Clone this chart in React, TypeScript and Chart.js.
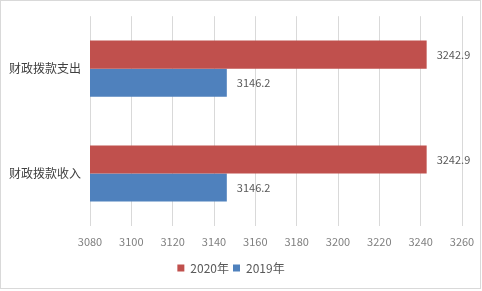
import React, { useEffect, useRef } from "react";
import { Chart, registerables } from "chart.js";

Chart.register(...registerables);

const categories = ["财政拨款支出", "财政拨款收入"];
const seriesNames = ["2020年", "2019年"];
const values2020 = [3242.9, 3242.9];
const values2019 = [3146.2, 3146.2];
const xMin = 3080;
const xMax = 3260;
const xStep = 20;

const RED = "#C0504D";
const BLUE = "#4F81BD";
const FONT = '"Noto Sans CJK SC", "Liberation Sans", sans-serif';

const valueLabels = {
  id: "valueLabels",
  afterDatasetsDraw(chart: any) {
    const ctx = chart.ctx;
    ctx.save();
    ctx.font = `11px ${FONT}`;
    ctx.fillStyle = "#595959";
    ctx.textAlign = "left";
    ctx.textBaseline = "middle";
    chart.data.datasets.forEach((ds: any, i: number) => {
      const meta = chart.getDatasetMeta(i);
      meta.data.forEach((el: any, j: number) => {
        ctx.fillText(String(ds.data[j]), el.x + 10, el.y);
      });
    });
    ctx.restore();
  },
};

export default function App() {
  const ref = useRef<HTMLCanvasElement>(null);
  useEffect(() => {
    if (!ref.current) return;
    const chart = new Chart(ref.current, {
      type: "bar",
      data: {
        labels: categories,
        datasets: [
          { label: seriesNames[0], data: values2020, backgroundColor: RED, categoryPercentage: 0.535, barPercentage: 1 },
          { label: seriesNames[1], data: values2019, backgroundColor: BLUE, categoryPercentage: 0.535, barPercentage: 1 },
        ],
      },
      options: {
        indexAxis: "y",
        animation: false,
        responsive: false,
        maintainAspectRatio: false,
        layout: { padding: { top: 16, right: 20, left: 0, bottom: 7 } },
        scales: {
          x: {
            min: xMin,
            max: xMax,
            ticks: {
              stepSize: xStep,
              color: "#7f7f7f",
              font: { size: 11, family: FONT },
              padding: 1,
              maxRotation: 0,
              callback: (v: any) => String(v),
            },
            grid: { color: "#d9d9d9", drawTicks: true, tickLength: 8, tickColor: "rgba(0,0,0,0)" },
            border: { display: false },
            afterFit: (s: any) => { s.height = 32; },
          },
          y: {
            ticks: { color: "#404040", font: { size: 12, family: FONT }, padding: 9 },
            grid: { display: false, drawTicks: false },
            border: { display: false },
            afterFit: (s: any) => { s.width = 90; },
          },
        },
        plugins: {
          legend: {
            position: "bottom",
            labels: { boxWidth: 7, boxHeight: 7, color: "#595959", font: { size: 12, family: FONT }, padding: 4 },
          },
          tooltip: { enabled: false },
        },
      },
      plugins: [valueLabels],
    });
    return () => chart.destroy();
  }, []);
  return (
    <div style={{ position: "fixed", left: 0, top: 0, width: 482, height: 291, background: "#fff" }}>
      <canvas ref={ref} width={482} height={291} style={{ display: "block" }} />
      <div style={{ position: "absolute", left: 0, top: 0, width: 479, height: 287, border: "1px solid #d9d9d9", pointerEvents: "none" }} />
    </div>
  );
}
